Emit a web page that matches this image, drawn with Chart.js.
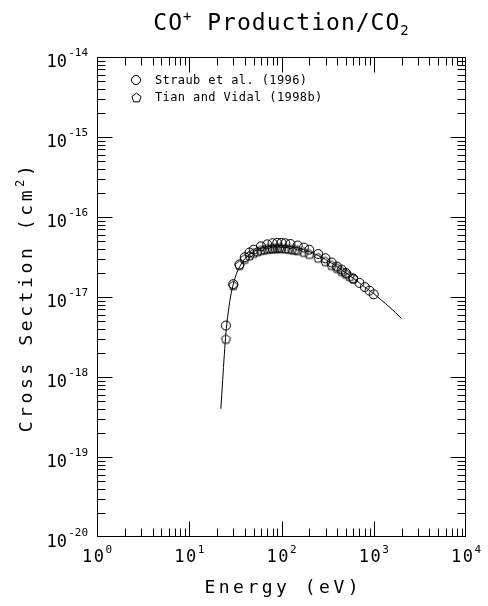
<!DOCTYPE html>
<html><head><meta charset="utf-8">
<script src="https://cdn.jsdelivr.net/npm/chart.js@4"></script>
<style>html,body{margin:0;padding:0;background:#fff}#wrap{width:488px;height:606px}</style>
</head><body><div id="wrap"><canvas id="c" width="488" height="606"></canvas></div>
<script>
// ---- data ----
const straubEnergy = [25, 30, 35, 40, 45, 50, 60, 70, 80, 90, 100, 110, 125, 150, 175, 200, 250, 300, 350, 400, 450, 500, 600, 700, 800, 900, 1000];
const straubSigma  = [4.4e-18, 1.45e-17, 2.55e-17, 3.15e-17, 3.6e-17, 3.9e-17, 4.3e-17, 4.55e-17, 4.7e-17, 4.75e-17, 4.75e-17, 4.7e-17, 4.6e-17, 4.4e-17, 4.15e-17, 3.9e-17, 3.45e-17, 3.05e-17, 2.7e-17, 2.4e-17, 2.2e-17, 2.0e-17, 1.7e-17, 1.5e-17, 1.33e-17, 1.2e-17, 1.08e-17];
const tianEnergy = [25, 30, 35, 40, 45, 50, 55, 60, 65, 70, 75, 80, 85, 90, 95, 100, 110, 120, 130, 140, 150, 175, 200, 250, 300, 350, 400, 450, 500, 550, 600];
const tianSigma  = [3.0e-18, 1.4e-17, 2.5e-17, 3.0e-17, 3.3e-17, 3.55e-17, 3.72e-17, 3.85e-17, 3.93e-17, 4.0e-17, 4.03e-17, 4.05e-17, 4.08e-17, 4.1e-17, 4.1e-17, 4.1e-17, 4.05e-17, 4.0e-17, 3.95e-17, 3.9e-17, 3.85e-17, 3.65e-17, 3.45e-17, 3.1e-17, 2.8e-17, 2.5e-17, 2.3e-17, 2.1e-17, 1.95e-17, 1.82e-17, 1.7e-17];
const fitEnergy = [22, 23, 24, 25, 26, 28, 30, 33, 36, 40, 45, 50, 60, 70, 80, 90, 100, 120, 150, 200, 250, 300, 400, 500, 600, 700, 800, 1000, 1200, 1500, 2000];
const fitSigma  = [4.0e-19, 9.0e-19, 1.9e-18, 3.6e-18, 5.5e-18, 1.0e-17, 1.45e-17, 2.05e-17, 2.5e-17, 3.0e-17, 3.4e-17, 3.7e-17, 4.05e-17, 4.25e-17, 4.35e-17, 4.4e-17, 4.4e-17, 4.3e-17, 4.1e-17, 3.7e-17, 3.3e-17, 2.95e-17, 2.4e-17, 2.0e-17, 1.72e-17, 1.5e-17, 1.33e-17, 1.1e-17, 9.2e-18, 7.4e-18, 5.4e-18];
const xExponents = [0, 1, 2, 3, 4];
const yExponents = [-20, -19, -18, -17, -16, -15, -14];
const legendLabels = ['Straub et al. (1996)', 'Tian and Vidal (1998b)'];
const titleParts = ['CO', '+', ' Production/CO', '2'];
const xTitle = 'Energy (eV)';
const yTitleParts = ['Cross Section (cm', '2', ')'];

const MONO = '"DejaVu Sans Mono", "Liberation Mono", monospace';

function makePentagon(r) {
  const s = Math.ceil(r * 2 + 3);
  const cv = document.createElement('canvas');
  cv.width = s; cv.height = s;
  const g = cv.getContext('2d');
  g.strokeStyle = '#000'; g.lineWidth = 1;
  g.beginPath();
  for (let i = 0; i < 5; i++) {
    const a = -Math.PI / 2 + i * 2 * Math.PI / 5;
    const px = s / 2 + r * Math.cos(a), py = s / 2 + r * Math.sin(a) + 0.5;
    if (i === 0) g.moveTo(px, py); else g.lineTo(px, py);
  }
  g.closePath(); g.stroke();
  return cv;
}
const pentagon = makePentagon(4.8);

const toPts = (xs, ys) => xs.map((x, i) => ({x: x, y: ys[i]}));

function drawSpaced(ctx, text, x, y, spacing) {
  ctx.letterSpacing = spacing + 'px';
  ctx.fillText(text, x, y);
  const w = ctx.measureText(text).width;
  ctx.letterSpacing = '0px';
  return w;
}

const framePlugin = {
  id: 'frame',
  afterDatasetsDraw(chart) {
    const ctx = chart.ctx, a = chart.chartArea;
    const xs = chart.scales.x, ys = chart.scales.y;
    ctx.save();
    ctx.strokeStyle = '#000'; ctx.lineWidth = 1;
    const L = Math.round(a.left) + 0.5, R = Math.round(a.right) - 0.5;
    const T = Math.round(a.top) + 0.5, B = Math.round(a.bottom) - 0.5;
    ctx.strokeRect(L, T, R - L, B - T);
    ctx.beginPath();
    // x ticks
    for (let d = 0; d < 4; d++) {
      for (let m = 1; m <= 9; m++) {
        if (d === 0 && m === 1) continue;
        const px = Math.round(xs.getPixelForValue(m * Math.pow(10, d))) + 0.5;
        const len = m === 1 ? 15 : 8;
        ctx.moveTo(px, B); ctx.lineTo(px, B - len);
        ctx.moveTo(px, T); ctx.lineTo(px, T + len);
      }
    }
    // y ticks
    for (let d = -20; d < -14; d++) {
      for (let m = 1; m <= 9; m++) {
        if (d === -20 && m === 1) continue;
        const py = Math.round(ys.getPixelForValue(m * Math.pow(10, d))) + 0.5;
        const len = m === 1 ? 15 : 8;
        ctx.moveTo(L, py); ctx.lineTo(L + len, py);
        ctx.moveTo(R, py); ctx.lineTo(R - len, py);
      }
    }
    ctx.stroke();

    ctx.fillStyle = '#000';
    // x tick labels
    ctx.textBaseline = 'alphabetic';
    ctx.textAlign = 'left';
    xExponents.forEach(e => {
      const px = xs.getPixelForValue(Math.pow(10, e));
      ctx.font = '17px ' + MONO;
      ctx.letterSpacing = '1.5px';
      const w1 = ctx.measureText('10').width;
      ctx.letterSpacing = '0px';
      ctx.font = '11px ' + MONO;
      const w2 = ctx.measureText(String(e)).width;
      const start = px - (w1 + w2) / 2;
      ctx.font = '17px ' + MONO;
      drawSpaced(ctx, '10', start, 562, 1.5);
      ctx.font = '11px ' + MONO;
      ctx.fillText(String(e), start + w1, 553);
    });
    // y tick labels
    yExponents.forEach(e => {
      const py = ys.getPixelForValue(Math.pow(10, e));
      ctx.font = '11px ' + MONO;
      ctx.textAlign = 'right';
      ctx.fillText('-' + String(-e), 88, py - 1);
      ctx.font = '17px ' + MONO;
      ctx.fillText('10', 67, py + 10);
    });

    // legend
    ctx.textAlign = 'left';
    ctx.font = '12px ' + MONO;
    const lx = 136;
    const ly = [80, 97];
    ctx.beginPath(); ctx.arc(lx, ly[0], 4.5, 0, Math.PI * 2); ctx.stroke();
    ctx.drawImage(pentagon, Math.round(lx - pentagon.width / 2), Math.round(ly[1] - pentagon.height / 2));
    ctx.textBaseline = 'middle';
    drawSpaced(ctx, legendLabels[0], 155, ly[0] + 1, 0.4);
    drawSpaced(ctx, legendLabels[1], 155, ly[1] + 1, 0.4);

    // title
    ctx.textBaseline = 'alphabetic';
    const cx = (a.left + a.right) / 2;
    const big = '23px ' + MONO, small = '14px ' + MONO;
    const sp = 1;
    ctx.letterSpacing = sp + 'px';
    ctx.font = big; const t0 = ctx.measureText(titleParts[0]).width;
    ctx.font = small; const t1 = ctx.measureText(titleParts[1]).width;
    ctx.font = big; const t2 = ctx.measureText(titleParts[2]).width;
    ctx.font = small; const t3 = ctx.measureText(titleParts[3]).width;
    let tx = cx - (t0 + t1 + t2 + t3) / 2;
    ctx.font = big; ctx.fillText(titleParts[0], tx, 30); tx += t0;
    ctx.font = small; ctx.fillText(titleParts[1], tx, 21); tx += t1;
    ctx.font = big; ctx.fillText(titleParts[2], tx, 30); tx += t2;
    ctx.font = small; ctx.fillText(titleParts[3], tx, 35);
    ctx.letterSpacing = '0px';

    // x axis title
    ctx.font = '18px ' + MONO;
    ctx.letterSpacing = '3.5px';
    const wx = ctx.measureText(xTitle).width;
    ctx.fillText(xTitle, cx - wx / 2 + 1.75, 593);
    ctx.letterSpacing = '0px';

    // y axis title (rotated)
    const cy = (a.top + a.bottom) / 2;
    ctx.save();
    ctx.translate(32, cy);
    ctx.rotate(-Math.PI / 2);
    ctx.letterSpacing = '3.6px';
    ctx.font = '18px ' + MONO; const y0 = ctx.measureText(yTitleParts[0]).width;
    ctx.font = '12px ' + MONO; const y1 = ctx.measureText(yTitleParts[1]).width;
    ctx.font = '18px ' + MONO; const y2 = ctx.measureText(yTitleParts[2]).width;
    let ty = -(y0 + y1 + y2) / 2;
    ctx.font = '18px ' + MONO; ctx.fillText(yTitleParts[0], ty, 0); ty += y0;
    ctx.font = '12px ' + MONO; ctx.fillText(yTitleParts[1], ty, -8); ty += y1;
    ctx.font = '18px ' + MONO; ctx.fillText(yTitleParts[2], ty, 0);
    ctx.restore();
    ctx.restore();
  }
};

new Chart(document.getElementById('c'), {
  type: 'scatter',
  data: {
    datasets: [
      { label: legendLabels[0], data: toPts(straubEnergy, straubSigma), showLine: false,
        pointStyle: 'circle', pointRadius: 4.5, borderColor: '#000', backgroundColor: 'rgba(0,0,0,0)', borderWidth: 1 },
      { label: legendLabels[1], data: toPts(tianEnergy, tianSigma), showLine: false,
        pointStyle: pentagon, pointRadius: 4.5, borderColor: '#000', backgroundColor: 'rgba(0,0,0,0)', borderWidth: 1 },
      { label: 'fit', data: toPts(fitEnergy, fitSigma), showLine: true, pointRadius: 0,
        borderColor: '#000', borderWidth: 1, cubicInterpolationMode: 'monotone', fill: false }
    ]
  },
  options: {
    responsive: false,
    animation: false,
    devicePixelRatio: 1,
    layout: { padding: { top: 57, right: 22, bottom: 0, left: 0 } },
    plugins: { legend: { display: false }, tooltip: { enabled: false }, title: { display: false } },
    scales: {
      x: { type: 'logarithmic', min: 1, max: 10000,
           grid: { display: false }, border: { display: false }, ticks: { display: false },
           afterFit: s => { s.height = 69; } },
      y: { type: 'logarithmic', min: 1e-20, max: 1e-14,
           grid: { display: false }, border: { display: false }, ticks: { display: false },
           afterFit: s => { s.width = 97; } }
    }
  },
  plugins: [framePlugin]
});
</script>
</body></html>
